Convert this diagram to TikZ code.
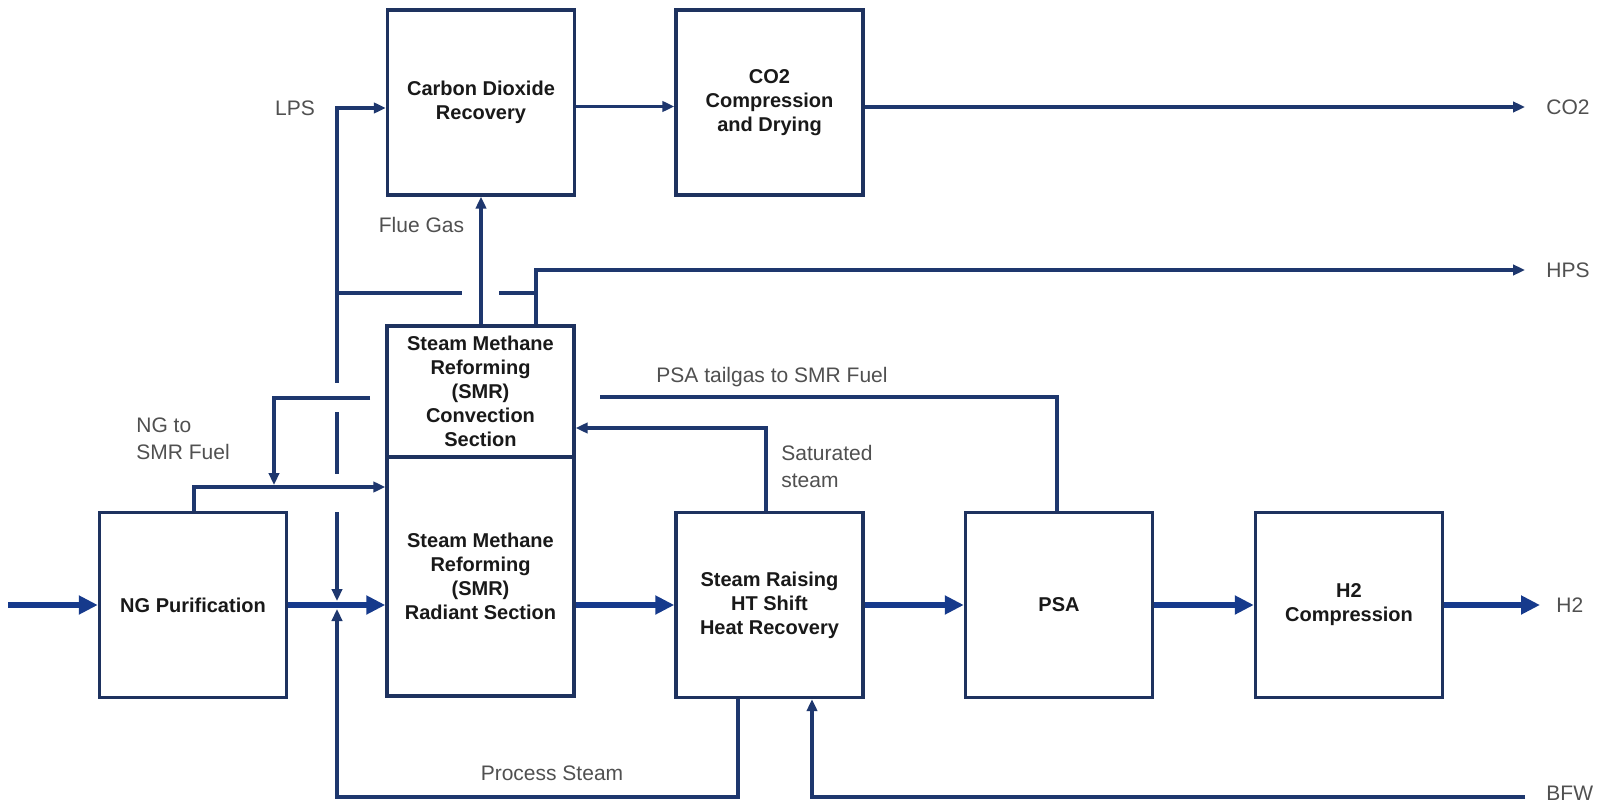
\documentclass[tikz,border=0pt]{standalone}
\usepackage{fontspec}
\setmainfont{Liberation Sans}
\usetikzlibrary{arrows.meta}
\definecolor{boxc}{RGB}{30,50,95}
\definecolor{flowc}{RGB}{22,58,140}
\definecolor{thinc}{RGB}{30,55,110}
\definecolor{labc}{RGB}{80,80,80}
\definecolor{txtc}{RGB}{25,25,25}
\begin{document}
\begin{tikzpicture}[x=0.5pt,y=-0.5pt,
 box/.style={draw=boxc,line width=1.7pt,fill=white,minimum width=93.5pt,minimum height=92.5pt,inner sep=0pt,align=center,font=\fontsize{10}{12}\selectfont\bfseries,text=txtc},
 lab/.style={font=\fontsize{10.5}{13.5}\selectfont,text=labc,inner sep=0pt},
 thin/.style={draw=thinc,line width=1.6pt},
 tarr/.style={thin,-{Triangle[length=6pt,width=5.2pt]}},
 main/.style={draw=flowc,line width=3.4pt,-{Triangle[length=9.5pt,width=9pt]}},
]
\useasboundingbox[fill=white] (0,0) rectangle (1600,802);

% boxes
\node[box] (ng) at (193,605) {NG Purification};
\node[box,minimum height=65.5pt] (smrc) at (480.5,391.5) {Steam Methane\\Reforming\\(SMR)\\Convection\\Section};
\node[box,minimum height=119.5pt] (smrr) at (480.5,576.5) {Steam Methane\\Reforming\\(SMR)\\Radiant Section};
\node[box] (cdr) at (481,102.5) {Carbon Dioxide\\Recovery};
\node[box] (co2c) at (769.5,102.5) {CO2\\Compression\\and Drying};
\node[box] (sr) at (769.5,605) {Steam Raising\\HT Shift\\Heat Recovery};
\node[box] (psa) at (1059,605) {PSA};
\node[box] (h2c) at (1349,605) {H2\\Compression};

% main flow
\coordinate (feed) at (8,605);
\coordinate (h2end) at (1540,605);
\draw[main] (feed) -- (ng.west);
\draw[main] (ng.east) -- (ng.east -| smrr.west);
\draw[main] (sr.west -| smrr.east) -- (sr.west);
\draw[main] (sr.east) -- (psa.west);
\draw[main] (psa.east) -- (h2c.west);
\draw[main] (h2c.east) -- (h2end);
\node[lab,anchor=west] (h2l) at (1556,605) {H2};

% CO2
\draw[tarr] ([yshift=-2pt]cdr.east) -- ([yshift=-2pt]cdr.east -| co2c.west);
\coordinate (co2end) at (1525,107);
\draw[tarr] (co2end -| co2c.east) -- (co2end);
\node[lab,anchor=west] (co2l) at (1546,107) {CO2};

% HPS
\coordinate (hpsb) at (536,270);
\coordinate (hpsend) at (1525,270);
\draw[tarr] (hpsb |- smrc.north) -- (hpsb) -- (hpsend);
\node[lab,anchor=west] (hpsl) at (1546,270) {HPS};

% Flue gas
\draw[tarr] (cdr.south |- smrc.north) -- (cdr.south);
\node[lab] (flue) at (421.5,225) {Flue Gas};

% steam header
\coordinate (lpsj) at (337,293);
\coordinate (gapl) at (462,293);
\coordinate (gapr) at (499,293);
\draw[thin] (lpsj) -- (gapl);
\draw[thin] (gapr) -- (gapr -| hpsb);

% LPS
\coordinate (lpsc) at (337,108);
\draw[tarr] (lpsj) -- (lpsc) -- (lpsc -| cdr.west);
\node[lab] (lpsl) at (295,108) {LPS};

% vertical steam line to feed (with bridges)
\coordinate (v1) at (337,383);
\coordinate (v2) at (337,412);
\coordinate (v3) at (337,474);
\coordinate (v4) at (337,512);
\coordinate (v5) at (337,601);
\draw[thin] (lpsj) -- (v1);
\draw[thin] (v2) -- (v3);
\draw[tarr] (v4) -- (v5);

% process steam
\coordinate (psb) at (738,797);
\coordinate (psc) at (337,797);
\coordinate (psup) at (337,609);
\draw[tarr] (psb |- sr.south) -- (psb) -- (psc) -- (psup);
\node[lab] (psl) at (552,773) {Process Steam};

% BFW
\coordinate (bfwin) at (1525,797);
\coordinate (bfwc) at (812,797);
\draw[tarr] (bfwin) -- (bfwc) -- (bfwc |- sr.south);
\node[lab,anchor=west] (bfwl) at (1546,793) {BFW};

% saturated steam
\coordinate (satc) at (766,428);
\draw[tarr] (satc |- sr.north) -- (satc) -- (satc -| smrc.east);
\node[lab,anchor=west,align=left] (satl) at (781,466.5) {Saturated\\steam};

% PSA tailgas
\coordinate (tgc) at (1057,397);
\coordinate (tgend) at (600,397);
\draw[thin] (tgc |- psa.north) -- (tgc) -- (tgend);
\node[lab] (tgl) at (772,377) {PSA tailgas to SMR Fuel};

% NG to SMR fuel
\coordinate (nfs) at (370,398);
\coordinate (nfc) at (274,398);
\coordinate (nfe) at (274,485);
\draw[tarr] (nfs) -- (nfc) -- (nfe);
\coordinate (ngr) at (194,487);
\draw[tarr] (ngr |- ng.north) -- (ngr) -- (ngr -| smrr.west);
\node[lab,anchor=west,align=left] (ngl) at (136,438.5) {NG to\\SMR Fuel};
\end{tikzpicture}
\end{document}
